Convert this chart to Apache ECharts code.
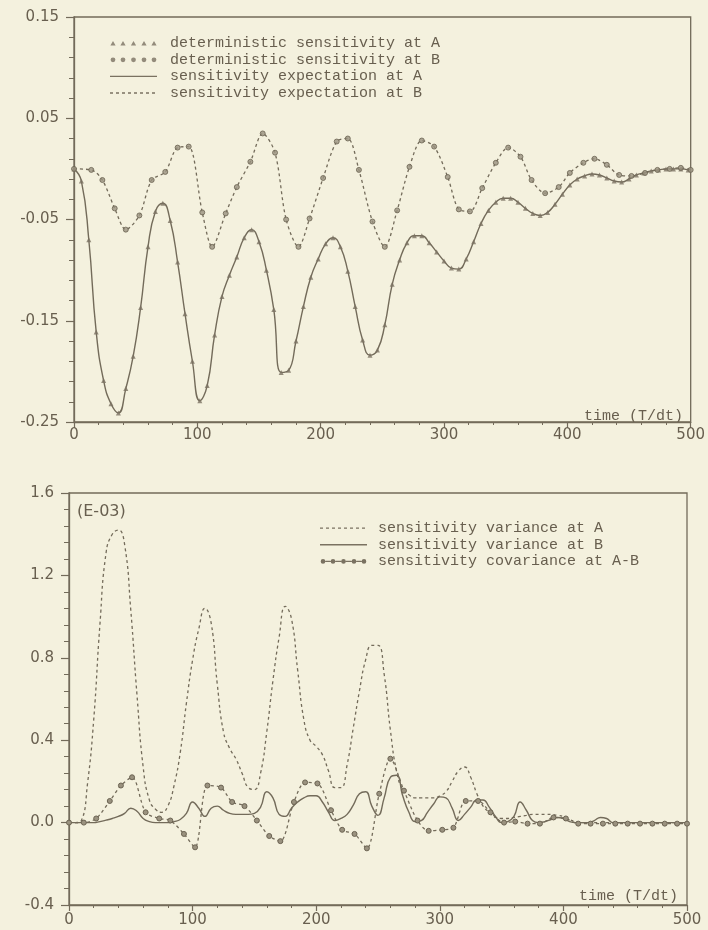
<!DOCTYPE html>
<html>
<head>
<meta charset="utf-8">
<script src="https://cdn.jsdelivr.net/npm/echarts@6/dist/echarts.min.js"></script>
<style>
  html, body { margin: 0; padding: 0; background: #f4f1de; }
  #chart { width: 708px; height: 930px; }
</style>
</head>
<body>
<div id="chart"></div>
<script>
// ---- upper panel: sensitivities at A and B ----
const timeA = [0, 6, 12, 18, 24, 30, 36, 42, 48, 54, 60, 66, 72, 78, 84, 90, 96, 102, 108, 114,
  120, 126, 132, 138, 144, 150, 156, 162, 168, 174, 180, 186, 192, 198, 204, 210, 216, 222, 228, 234,
  240, 246, 252, 258, 264, 270, 276, 282, 288, 294, 300, 306, 312, 318, 324, 330, 336, 342, 348, 354,
  360, 366, 372, 378, 384, 390, 396, 402, 408, 414, 420, 426, 432, 438, 444, 450, 456, 462, 468, 474,
  480, 486, 492, 498];
const sensA = [0.000, -0.012, -0.070, -0.161, -0.209, -0.232, -0.241, -0.217, -0.185, -0.137,
  -0.077, -0.042, -0.034, -0.051, -0.092, -0.143, -0.190, -0.229, -0.214, -0.164,
  -0.126, -0.105, -0.087, -0.068, -0.060, -0.072, -0.100, -0.139, -0.201, -0.199,
  -0.170, -0.136, -0.107, -0.089, -0.074, -0.068, -0.077, -0.101, -0.136, -0.169,
  -0.184, -0.179, -0.154, -0.114, -0.090, -0.073, -0.066, -0.066, -0.073, -0.082,
  -0.091, -0.098, -0.099, -0.089, -0.072, -0.054, -0.041, -0.033, -0.029, -0.029,
  -0.033, -0.039, -0.044, -0.046, -0.043, -0.035, -0.025, -0.016, -0.010, -0.007,
  -0.005, -0.006, -0.009, -0.012, -0.013, -0.010, -0.006, -0.004, -0.002, -0.001,
  0.000, 0.000, 0.000, -0.001];

const timeB = [0, 14, 23, 33, 42, 53, 63, 74, 84, 93, 104, 112, 123, 132, 143, 153, 163, 172, 182, 191,
  202, 213, 222, 231, 242, 252, 262, 272, 282, 292, 303, 312, 321, 331, 342, 352, 362, 371, 382, 393,
  402, 413, 422, 432, 442, 452, 463, 473, 483, 492, 500];
const sensB = [0.000, -0.001, -0.011, -0.039, -0.060, -0.046, -0.011, -0.003, 0.021, 0.022,
  -0.043, -0.077, -0.044, -0.018, 0.007, 0.035, 0.016, -0.050, -0.077, -0.049,
  -0.009, 0.027, 0.030, -0.001, -0.052, -0.077, -0.041, 0.002, 0.028, 0.022,
  -0.008, -0.040, -0.042, -0.019, 0.006, 0.021, 0.012, -0.011, -0.024, -0.018,
  -0.004, 0.006, 0.010, 0.004, -0.006, -0.007, -0.004, -0.001, 0.000, 0.001, -0.001];

// ---- lower panel: variances and covariance (units of 1E-03) ----
const varTime = [0, 5, 10, 15, 20, 25, 30, 35, 40, 45, 50, 55, 60, 65, 70, 75, 80, 85, 90, 95,
  100, 105, 110, 115, 120, 125, 130, 135, 140, 145, 150, 155, 160, 165, 170, 175, 180, 185, 190, 195,
  200, 205, 210, 215, 220, 225, 230, 235, 240, 245, 250, 255, 260, 265, 270, 275, 280, 285, 290, 295,
  300, 305, 310, 315, 320, 325, 330, 335, 340, 345, 350, 355, 360, 365, 370, 375, 380, 385, 390, 395,
  400, 405, 410, 415, 420, 425, 430, 435, 440, 445, 450, 455, 460, 465, 470, 475, 480, 485, 490, 495, 500];
const varA = [0.00, 0.00, 0.01, 0.19, 0.50, 0.96, 1.31, 1.40, 1.42, 1.35,
  1.03, 0.62, 0.27, 0.11, 0.065, 0.05, 0.08, 0.18, 0.34, 0.58,
  0.79, 0.94, 1.04, 0.97, 0.67, 0.44, 0.36, 0.31, 0.24, 0.17,
  0.16, 0.24, 0.44, 0.69, 0.90, 1.05, 0.99, 0.74, 0.50, 0.40,
  0.37, 0.33, 0.25, 0.17, 0.17, 0.28, 0.46, 0.64, 0.79, 0.86,
  0.86, 0.72, 0.45, 0.25, 0.16, 0.135, 0.12, 0.12, 0.12, 0.12,
  0.13, 0.15, 0.20, 0.25, 0.27, 0.22, 0.14, 0.08, 0.05, 0.025,
  0.02, 0.02, 0.025, 0.03, 0.035, 0.04, 0.04, 0.04, 0.04, 0.035,
  0.03, 0.015, 0.005, 0, 0, 0, 0, 0, 0, 0,
  0, 0, 0, 0, 0, 0, 0, 0, 0, 0, 0];
const varB = [0, 0, 0, 0, 0, 0.005, 0.012, 0.02, 0.03, 0.045,
  0.07, 0.055, 0.02, 0.005, 0, 0, 0, 0.005, 0.015, 0.045,
  0.10, 0.07, 0.03, 0.07, 0.08, 0.06, 0.045, 0.04, 0.04, 0.04,
  0.045, 0.075, 0.15, 0.12, 0.04, 0.03, 0.07, 0.10, 0.12, 0.13,
  0.13, 0.10, 0.05, 0.01, 0.02, 0.04, 0.085, 0.14, 0.15, 0.08,
  0.035, 0.12, 0.22, 0.23, 0.13, 0.05, 0.005, 0.01, 0.05, 0.09,
  0.125, 0.12, 0.07, 0.01, 0.04, 0.075, 0.11, 0.11, 0.075, 0.03,
  0, 0.005, 0.03, 0.10, 0.06, 0.01, 0, 0.005, 0.015, 0.025,
  0.02, 0.005, 0, 0, 0, 0.01, 0.025, 0.02, 0, 0,
  0, 0, 0, 0, 0, 0, 0, 0, 0, 0, 0];

const covTime = [0, 12, 22, 33, 42, 51, 62, 73, 82, 93, 102, 112, 123, 132, 142, 152, 162, 171, 182, 191,
  201, 212, 221, 231, 241, 251, 260, 271, 282, 291, 302, 311, 321, 331, 341, 352, 361, 371, 381, 392,
  402, 412, 422, 432, 442, 452, 462, 472, 482, 492, 500];
const covAB = [0, 0, 0.02, 0.105, 0.18, 0.22, 0.05, 0.02, 0.01, -0.055,
  -0.12, 0.18, 0.17, 0.10, 0.08, 0.01, -0.065, -0.09, 0.10, 0.195,
  0.19, 0.06, -0.035, -0.055, -0.125, 0.14, 0.31, 0.155, 0.01, -0.04,
  -0.035, -0.025, 0.105, 0.105, 0.05, 0.0, 0.005, -0.005, -0.005, 0.025,
  0.02, -0.005, -0.005, -0.005, -0.005, -0.005, -0.005, -0.005, -0.005, -0.005, -0.005];

// ---- axis ticks ----
const timeTicks = [0, 100, 200, 300, 400, 500];
const sensTicks = [-0.25, -0.15, -0.05, 0.05, 0.15];
const varTicks = [-0.4, 0.0, 0.4, 0.8, 1.2, 1.6];

const INK = '#736b5a';
const TEXT = '#685f4f';
const LABEL_FONT = 'DejaVu Sans';
const MONO_FONT = 'Liberation Mono';

const zip = (xs, ys) => xs.map((x, i) => [x, ys[i]]);

// Legend icons: 47 x 10 boxes; two tiny corner specks pin the box so shapes keep their scale.
const ICON_W = 47, ICON_H = 10;
const frame = `M0,0L0.01,0L0,0.01Z M${ICON_W},${ICON_H}L${ICON_W - 0.01},${ICON_H}L${ICON_W},${ICON_H - 0.01}Z`;
const icon = parts => 'path://' + frame + ' ' + parts.join(' ');
const dot = (cx, cy, r) => `M${cx - r},${cy}a${r},${r} 0 1,0 ${2 * r},0a${r},${r} 0 1,0 ${-2 * r},0Z`;
const bar = (x0, x1, y, h) => `M${x0},${y - h / 2}L${x1},${y - h / 2}L${x1},${y + h / 2}L${x0},${y + h / 2}Z`;
const centres = [3, 13, 23.5, 34, 44];

const TRI_ICON = icon(centres.map(c => `M${c - 2.6},7.6L${c},3L${c + 2.6},7.6Z`));
const DOT_ICON = icon(centres.map(c => dot(c, 5.2, 2.4)));
const SOLID_ICON = icon([bar(0, ICON_W, 5.2, 1.4)]);
const DASH_ICON = icon([0, 6, 12, 18, 24, 30, 36, 42].map(x => bar(x, Math.min(x + 3, ICON_W), 5.2, 1.3)));
const COV_ICON = icon(centres.map(c => dot(c, 5.2, 2.3))
  .concat(centres.slice(1).map((c, i) => bar(centres[i] + 2.3, c - 2.3, 5.2, 1.2))));
const ICON_STYLE = { color: '#7a7261', borderWidth: 0 };

function timeAxis(gridIndex, labelMargin) {
  return {
    gridIndex, type: 'value',
    min: timeTicks[0], max: timeTicks[timeTicks.length - 1], interval: timeTicks[1] - timeTicks[0],
    axisLine: { show: true, onZero: false, lineStyle: { color: INK, width: 1.3 } },
    axisTick: { show: true, length: 6, lineStyle: { color: INK, width: 1.2 } },
    minorTick: { show: true, splitNumber: 5, length: 3, lineStyle: { color: INK, width: 1 } },
    axisLabel: { margin: labelMargin, color: TEXT, fontFamily: LABEL_FONT, fontSize: 15 },
    splitLine: { show: false }
  };
}
function valueAxis(gridIndex, ticks, digits) {
  return {
    gridIndex, type: 'value',
    min: ticks[0], max: ticks[ticks.length - 1], interval: +(ticks[1] - ticks[0]).toFixed(6),
    axisLine: { show: true, onZero: false, lineStyle: { color: INK, width: 1.3 } },
    axisTick: { show: true, length: 8, lineStyle: { color: INK, width: 1.2 } },
    minorTick: { show: true, splitNumber: 5, length: 5, lineStyle: { color: INK, width: 1 } },
    axisLabel: { margin: 15, color: TEXT, fontFamily: LABEL_FONT, fontSize: 15,
      formatter: v => (+v).toFixed(digits) },
    splitLine: { show: false }
  };
}

const legendText = pad => ({ fontFamily: MONO_FONT, fontSize: 15, color: TEXT, lineHeight: 16, padding: [0, 0, 0, pad] });

const option = {
  backgroundColor: '#f4f1de',
  animation: false,
  grid: [
    { left: 74, top: 17, width: 619, height: 405, show: true, borderColor: INK, borderWidth: 1.3 },
    { left: 69, top: 493, width: 618, height: 412, show: true, borderColor: INK, borderWidth: 1.3 }
  ],
  xAxis: [timeAxis(0, 6), timeAxis(1, 8)],
  yAxis: [valueAxis(0, sensTicks, 2), valueAxis(1, varTicks, 1)],
  legend: [
    {
      orient: 'vertical', left: 105, top: 30, itemWidth: ICON_W, itemHeight: ICON_H, itemGap: 0.6,
      selectedMode: false, textStyle: legendText(8),
      data: [
        { name: 'deterministic sensitivity at A', icon: TRI_ICON, itemStyle: ICON_STYLE },
        { name: 'deterministic sensitivity at B', icon: DOT_ICON, itemStyle: ICON_STYLE },
        { name: 'sensitivity expectation at A', icon: SOLID_ICON, itemStyle: ICON_STYLE },
        { name: 'sensitivity expectation at B', icon: DASH_ICON, itemStyle: ICON_STYLE }
      ]
    },
    {
      orient: 'vertical', left: 315, top: 515, itemWidth: ICON_W, itemHeight: ICON_H, itemGap: 0.6,
      selectedMode: false, textStyle: legendText(6),
      data: [
        { name: 'sensitivity variance at A', icon: DASH_ICON, itemStyle: ICON_STYLE },
        { name: 'sensitivity variance at B', icon: SOLID_ICON, itemStyle: ICON_STYLE },
        { name: 'sensitivity covariance at A-B', icon: COV_ICON, itemStyle: ICON_STYLE }
      ]
    }
  ],
  graphic: [
    { type: 'text', right: 708 - 683, top: 409,
      style: { text: 'time (T/dt)', fill: TEXT, font: '15px "Liberation Mono"' } },
    { type: 'text', right: 708 - 678, top: 889,
      style: { text: 'time (T/dt)', fill: TEXT, font: '15px "Liberation Mono"' } },
    { type: 'text', left: 77, top: 504,
      style: { text: '(E-03)', fill: TEXT, font: '16px "DejaVu Sans"' } }
  ],
  series: [
    {
      name: 'sensitivity expectation at A', type: 'line', xAxisIndex: 0, yAxisIndex: 0,
      data: zip(timeA, sensA), smooth: 0.5, symbol: 'none',
      lineStyle: { color: INK, width: 1.4 }, itemStyle: { color: INK }, z: 2
    },
    {
      name: 'sensitivity expectation at B', type: 'line', xAxisIndex: 0, yAxisIndex: 0,
      data: zip(timeB, sensB), smooth: 0.3, symbol: 'none',
      lineStyle: { color: INK, width: 1.3, type: [3, 3] }, itemStyle: { color: INK }, z: 2
    },
    {
      name: 'deterministic sensitivity at A', type: 'scatter', xAxisIndex: 0, yAxisIndex: 0,
      data: zip(timeA, sensA), symbol: 'triangle', symbolSize: 5,
      itemStyle: { color: '#7a7261' }, z: 3
    },
    {
      name: 'deterministic sensitivity at B', type: 'scatter', xAxisIndex: 0, yAxisIndex: 0,
      data: zip(timeB, sensB), symbol: 'circle', symbolSize: 5,
      itemStyle: { color: '#9a927f', borderColor: '#6c6453', borderWidth: 1 }, z: 3
    },
    {
      name: 'sensitivity variance at A', type: 'line', xAxisIndex: 1, yAxisIndex: 1,
      data: zip(varTime, varA), smooth: 0.5, symbol: 'none',
      lineStyle: { color: INK, width: 1.3, type: [3, 3] }, itemStyle: { color: INK }, z: 2
    },
    {
      name: 'sensitivity variance at B', type: 'line', xAxisIndex: 1, yAxisIndex: 1,
      data: zip(varTime, varB), smooth: 0.5, symbol: 'none',
      lineStyle: { color: INK, width: 1.4 }, itemStyle: { color: INK }, z: 2
    },
    {
      name: 'sensitivity covariance at A-B', type: 'line', xAxisIndex: 1, yAxisIndex: 1,
      data: zip(covTime, covAB), smooth: 0.3, symbol: 'circle', symbolSize: 5, showSymbol: true,
      lineStyle: { color: INK, width: 1.3, type: [3, 3] },
      itemStyle: { color: '#9a927f', borderColor: '#6c6453', borderWidth: 1 }, z: 3
    }
  ]
};

const chart = echarts.init(document.getElementById('chart'), null, { renderer: 'canvas' });
chart.setOption(option);
</script>
</body>
</html>
